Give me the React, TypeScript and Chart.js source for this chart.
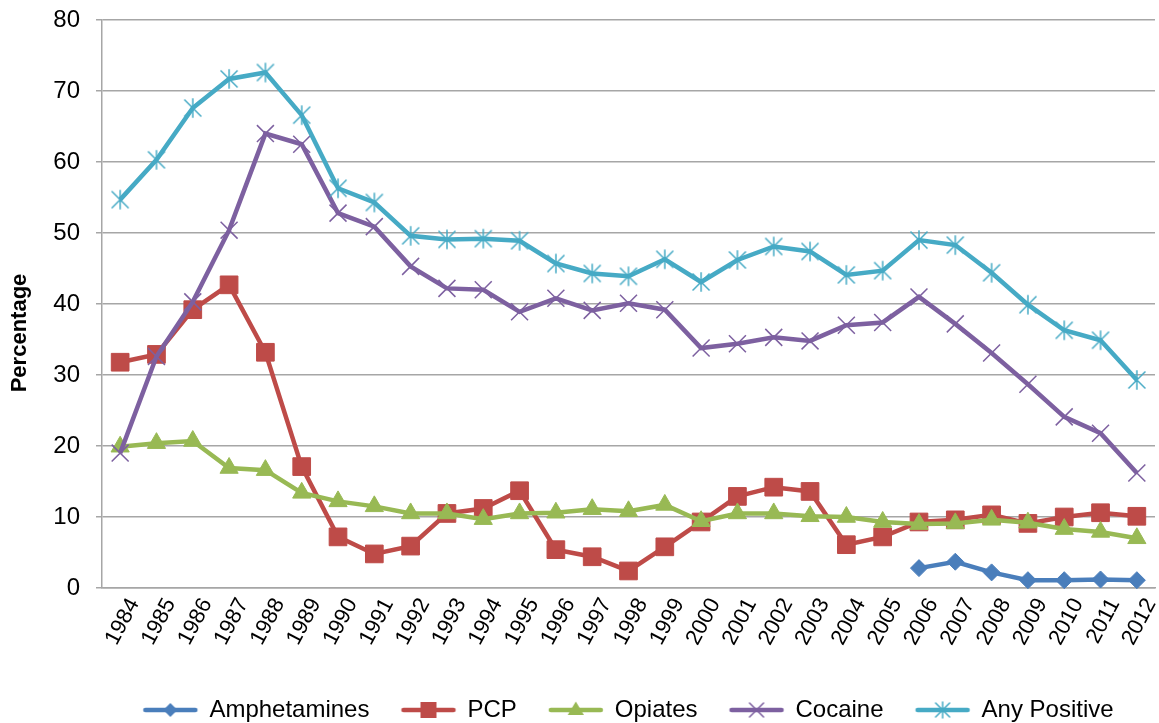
import React, { useEffect, useRef } from 'react';
import { Chart, registerables } from 'chart.js';

Chart.register(...registerables);

const years = [
  '1984', '1985', '1986', '1987', '1988', '1989', '1990', '1991', '1992', '1993',
  '1994', '1995', '1996', '1997', '1998', '1999', '2000', '2001', '2002', '2003',
  '2004', '2005', '2006', '2007', '2008', '2009', '2010', '2011', '2012',
];

const amphetamines = [
  null, null, null, null, null, null, null, null, null, null,
  null, null, null, null, null, null, null, null, null, null,
  null, null, 2.8, 3.7, 2.2, 1.1, 1.1, 1.2, 1.1,
];

const pcp = [
  31.8, 32.9, 39.2, 42.7, 33.2, 17.1, 7.2, 4.8, 5.9, 10.5,
  11.2, 13.7, 5.4, 4.4, 2.4, 5.8, 9.3, 12.9, 14.2, 13.6,
  6.1, 7.2, 9.3, 9.6, 10.3, 9.1, 10.0, 10.6, 10.1,
];

const opiates = [
  19.9, 20.4, 20.7, 16.9, 16.6, 13.4, 12.2, 11.5, 10.5, 10.5,
  9.7, 10.5, 10.6, 11.1, 10.8, 11.7, 9.4, 10.5, 10.5, 10.1,
  10.0, 9.3, 9.0, 9.1, 9.6, 9.2, 8.3, 7.9, 7.0,
];

const cocaine = [
  19.0, 32.6, 40.3, 50.4, 64.0, 62.5, 52.8, 50.9, 45.3, 42.2,
  42.0, 38.9, 40.8, 39.1, 40.1, 39.2, 33.8, 34.4, 35.3, 34.8,
  37.0, 37.4, 41.0, 37.2, 33.1, 28.7, 24.1, 21.8, 16.2,
];

const anyPositive = [
  54.7, 60.3, 67.6, 71.7, 72.6, 66.6, 56.3, 54.3, 49.6, 49.1,
  49.2, 48.9, 45.7, 44.3, 43.9, 46.3, 43.1, 46.2, 48.1, 47.4,
  44.1, 44.7, 49.0, 48.3, 44.4, 39.9, 36.3, 34.9, 29.3,
];

const seriesNames = ['Amphetamines', 'PCP', 'Opiates', 'Cocaine', 'Any Positive'];
const seriesColors = ['#4A7EBB', '#BE4B48', '#98B954', '#7D60A0', '#46AAC5'];
const yTicks = [0, 10, 20, 30, 40, 50, 60, 70, 80];
const yTitle = 'Percentage';

const FONT = "'Liberation Sans', Arial, sans-serif";

type Kind = 'diamond' | 'square' | 'triangle' | 'x' | 'star';
const kinds: Kind[] = ['diamond', 'square', 'triangle', 'x', 'star'];

function drawMarker(ctx: CanvasRenderingContext2D, kind: Kind, cx: number, cy: number, s: number, color: string) {
  ctx.save();
  ctx.fillStyle = color;
  ctx.strokeStyle = color;
  ctx.beginPath();
  if (kind === 'diamond') {
    ctx.moveTo(cx, cy - s);
    ctx.lineTo(cx + s, cy);
    ctx.lineTo(cx, cy + s);
    ctx.lineTo(cx - s, cy);
    ctx.closePath();
    ctx.fill();
  } else if (kind === 'square') {
    ctx.rect(cx - s, cy - s, 2 * s, 2 * s);
    ctx.fill();
  } else if (kind === 'triangle') {
    ctx.moveTo(cx, cy - s);
    ctx.lineTo(cx + s * 0.866 * 1.1, cy + s * 0.6);
    ctx.lineTo(cx - s * 0.866 * 1.1, cy + s * 0.6);
    ctx.closePath();
    ctx.fill();
  } else if (kind === 'x') {
    ctx.lineWidth = 1.5;
    ctx.moveTo(cx - s, cy - s);
    ctx.lineTo(cx + s, cy + s);
    ctx.moveTo(cx + s, cy - s);
    ctx.lineTo(cx - s, cy + s);
    ctx.stroke();
  } else {
    ctx.lineWidth = 1.5;
    ctx.moveTo(cx - s, cy - s);
    ctx.lineTo(cx + s, cy + s);
    ctx.moveTo(cx + s, cy - s);
    ctx.lineTo(cx - s, cy + s);
    ctx.moveTo(cx, cy - s * 1.15);
    ctx.lineTo(cx, cy + s * 1.15);
    ctx.stroke();
  }
  ctx.restore();
}

function makeStarPoint(color: string): HTMLCanvasElement {
  const c = document.createElement('canvas');
  c.width = 22;
  c.height = 22;
  const ctx = c.getContext('2d')!;
  drawMarker(ctx, 'star', 11, 11, 8.5, color);
  return c;
}

function makeLegendIcon(kind: Kind, color: string): HTMLCanvasElement {
  const c = document.createElement('canvas');
  c.width = 58;
  c.height = 24;
  const ctx = c.getContext('2d')!;
  ctx.strokeStyle = color;
  ctx.lineWidth = 4.5;
  ctx.lineCap = 'round';
  ctx.beginPath();
  ctx.moveTo(4, 12);
  ctx.lineTo(54, 12);
  ctx.stroke();
  const sizes: Record<Kind, number> = { diamond: 7, square: 8, triangle: 8.5, x: 7, star: 7 };
  drawMarker(ctx, kind, 29, 12, sizes[kind], color);
  return c;
}

const yTitlePlugin = {
  id: 'yTitlePlugin',
  afterDraw(chart: any) {
    const ctx = chart.ctx as CanvasRenderingContext2D;
    const area = chart.chartArea;
    ctx.save();
    ctx.translate(26, (area.top + area.bottom) / 2 + 29);
    ctx.rotate(-Math.PI / 2);
    ctx.font = `bold 22px ${FONT}`;
    ctx.fillStyle = '#000';
    ctx.textAlign = 'center';
    ctx.textBaseline = 'alphabetic';
    ctx.fillText(yTitle, 0, 0);
    ctx.restore();
  },
};

export default function App() {
  const canvasRef = useRef<HTMLCanvasElement | null>(null);

  useEffect(() => {
    const canvas = canvasRef.current;
    if (!canvas) return;
    const values = [amphetamines, pcp, opiates, cocaine, anyPositive];
    const pointStyles: any[] = ['rectRot', 'rect', 'triangle', 'crossRot', makeStarPoint(seriesColors[4])];
    const radii = [8.5, 12.5, 10.5, 12, 11];
    const legendIcons = kinds.map((k, i) => makeLegendIcon(k, seriesColors[i]));

    const chart = new Chart(canvas, {
      type: 'line',
      data: {
        labels: years,
        datasets: seriesNames.map((name, i) => ({
          label: name,
          data: values[i],
          borderColor: seriesColors[i],
          backgroundColor: seriesColors[i],
          borderWidth: 4.5,
          tension: 0,
          pointStyle: pointStyles[i],
          pointRadius: radii[i],
          pointBorderWidth: i >= 3 ? 1.5 : 1,
          pointBackgroundColor: seriesColors[i],
          pointBorderColor: seriesColors[i],
          spanGaps: false,
          clip: false,
          order: 4 - i,
        })),
      },
      options: {
        animation: false,
        responsive: false,
        events: [],
        layout: { autoPadding: false, padding: { top: 20, right: 4, left: 0, bottom: 0 } },
        scales: {
          x: {
            offset: true,
            grid: { display: false, drawTicks: false },
            border: { display: true, color: '#A6A6A6', width: 1.5 },
            ticks: {
              color: '#000',
              font: { family: FONT, size: 22 },
              minRotation: 62,
              maxRotation: 62,
              autoSkip: false,
              padding: 6,
              labelOffset: 14,
            },
            afterFit: (s: any) => {
              s.height = 78;
              s.paddingLeft = 0;
              s.paddingRight = 0;
            },
          },
          y: {
            min: 0,
            max: 80,
            afterBuildTicks: (s: any) => { s.ticks = yTicks.map((v) => ({ value: v })); },
            grid: { color: '#A6A6A6', lineWidth: 1.5, tickLength: 6, drawTicks: true },
            border: { display: true, color: '#A6A6A6', width: 1.5 },
            ticks: {
              color: '#000',
              font: { family: FONT, size: 24 },
              padding: 16,
            },
            afterFit: (s: any) => {
              s.width = 102;
              s.paddingTop = 0;
              s.paddingBottom = 0;
            },
          },
        },
        plugins: {
          tooltip: { enabled: false },
          title: { display: false },
          legend: {
            display: true,
            position: 'bottom',
            fullSize: false,
            maxHeight: 57,
            labels: {
              color: '#000',
              font: { family: FONT, size: 24 },
              usePointStyle: true,
              pointStyleWidth: 54,
              boxHeight: 24,
              padding: 32,
              generateLabels: (ch: any) =>
                ch.data.datasets.map((ds: any, i: number) => ({
                  text: ds.label,
                  pointStyle: legendIcons[i],
                  fillStyle: seriesColors[i],
                  strokeStyle: seriesColors[i],
                  lineWidth: 0,
                  hidden: false,
                  datasetIndex: i,
                  fontColor: '#000',
                })),
            },
          },
        },
      },
      plugins: [yTitlePlugin],
    } as any);

    return () => chart.destroy();
  }, []);

  return (
    <div style={{ position: 'fixed', left: 0, top: 0, width: 1159, height: 723, overflow: 'hidden', background: '#fff' }}>
      <canvas ref={canvasRef} width={1159} height={723} style={{ display: 'block' }} />
    </div>
  );
}
